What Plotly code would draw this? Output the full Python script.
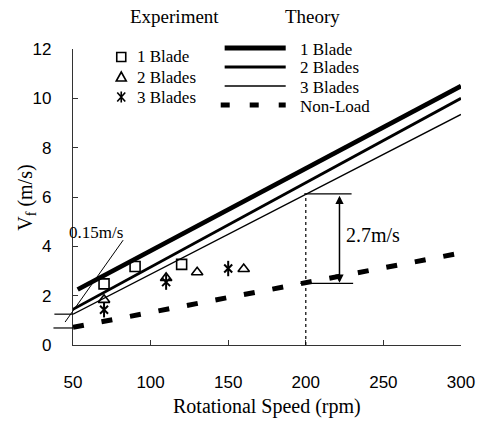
import plotly.graph_objects as go

# ---------------- data ----------------
rpm_exp_1blade = [70, 90, 120]
vf_exp_1blade = [2.48, 3.18, 3.27]
rpm_exp_2blade = [70, 110, 130, 160]
vf_exp_2blade = [1.83, 2.72, 2.95, 3.08]
rpm_exp_3blade = [70, 110, 150]
vf_exp_3blade = [1.43, 2.55, 3.10]

rpm_theory_1blade = [53, 300]
vf_theory_1blade = [2.25, 10.5]
rpm_theory = [50, 300]
vf_theory_2blade = [1.45, 10.0]
vf_theory_3blade = [1.25, 9.35]
vf_nonload = [0.72, 3.73]

x_ticks = [50, 100, 150, 200, 250, 300]
y_ticks = [0, 2, 4, 6, 8, 10, 12]
X_RANGE = [50, 300]
Y_RANGE = [0, 12]

SERIF = "Liberation Serif"
SANS = "Liberation Sans"

# plot-area geometry (pixels) used only for placing decorations
W, H = 487, 421
L, R, T, B = 73, 20, 49, 76
PW, PH = W - L - R, H - T - B


def px(p):
    return (p - L) / PW


def py(p):
    return (H - B - p) / PH


def dx(v):  # data x -> paper
    return (v - X_RANGE[0]) / (X_RANGE[1] - X_RANGE[0])


def dy(v):  # data y -> paper
    return (v - Y_RANGE[0]) / (Y_RANGE[1] - Y_RANGE[0])


fig = go.Figure()

# theory lines
fig.add_trace(go.Scatter(x=rpm_theory_1blade, y=vf_theory_1blade, mode="lines",
                         line=dict(color="black", width=4.8), name="Theory 1 Blade"))
fig.add_trace(go.Scatter(x=rpm_theory, y=vf_theory_2blade, mode="lines",
                         line=dict(color="black", width=2.8), name="Theory 2 Blades"))
fig.add_trace(go.Scatter(x=rpm_theory, y=vf_theory_3blade, mode="lines",
                         line=dict(color="black", width=1.4), name="Theory 3 Blades"))
fig.add_trace(go.Scatter(x=rpm_theory, y=vf_nonload, mode="lines",
                         line=dict(color="black", width=5, dash="11px,18px"), name="Non-Load"))

# experiment markers
fig.add_trace(go.Scatter(x=rpm_exp_1blade, y=vf_exp_1blade, mode="markers",
                         marker=dict(symbol="square-open", size=10, color="black",
                                     line=dict(width=1.6, color="black")), name="1 Blade"))
fig.add_trace(go.Scatter(x=rpm_exp_2blade, y=vf_exp_2blade, mode="markers",
                         marker=dict(symbol="triangle-up-open", size=10, color="black",
                                     line=dict(width=1.6, color="black")), name="2 Blades"))
fig.add_trace(go.Scatter(x=rpm_exp_3blade, y=vf_exp_3blade, mode="markers",
                         marker=dict(symbol="x-thin-open", size=8, color="black",
                                     line=dict(width=2, color="black")), name="3 Blades"))
fig.add_trace(go.Scatter(x=rpm_exp_3blade, y=vf_exp_3blade, mode="markers",
                         marker=dict(symbol="line-ns-open", size=11, color="black",
                                     line=dict(width=2, color="black")), showlegend=False))

shapes = []
annotations = []

# ---- right-hand dimension (2.7 m/s) ----
shapes.append(dict(type="line", xref="x", yref="y", x0=200, x1=200, y0=0, y1=6.13,
                   line=dict(color="black", width=1.2, dash="dot")))
shapes.append(dict(type="line", xref="x", yref="y", x0=199, x1=229.5, y0=6.13, y1=6.13,
                   line=dict(color="black", width=1.2)))
shapes.append(dict(type="line", xref="x", yref="y", x0=196.5, x1=230.5, y0=2.50, y1=2.50,
                   line=dict(color="black", width=1.2)))
annotations.append(dict(x=221.7, y=2.52, ax=221.7, ay=6.11, xref="x", yref="y",
                        axref="x", ayref="y", text="", showarrow=True, arrowhead=2,
                        arrowside="end+start", arrowsize=1.1, arrowwidth=1.5, arrowcolor="black"))
annotations.append(dict(x=224.5, y=4.45, xref="x", yref="y", text="2.7m/s", showarrow=False,
                        xanchor="left", yanchor="middle", font=dict(family=SERIF, size=20, color="black")))

# ---- left-hand dimension (0.15 m/s) ----
shapes.append(dict(type="line", xref="paper", yref="paper", x0=dx(38.0), x1=dx(50), y0=dy(1.25), y1=dy(1.25),
                   line=dict(color="black", width=1.2)))
shapes.append(dict(type="line", xref="paper", yref="paper", x0=dx(37.4), x1=dx(50), y0=dy(0.69), y1=dy(0.69),
                   line=dict(color="black", width=1.2)))
shapes.append(dict(type="line", xref="paper", yref="paper", x0=dx(44.9), x1=dx(82.3), y0=dy(0.93), y1=dy(4.25),
                   line=dict(color="black", width=1)))
annotations.append(dict(x=44.0, y=1.27, xref="x", yref="y", ax=0, ay=-13, text="",
                        showarrow=True, arrowhead=2, arrowsize=1.1, arrowwidth=1.5, arrowcolor="black"))
annotations.append(dict(x=44.0, y=0.67, xref="x", yref="y", ax=0, ay=13, text="",
                        showarrow=True, arrowhead=2, arrowsize=1.1, arrowwidth=1.5, arrowcolor="black"))
annotations.append(dict(x=px(126), y=py(232), xref="paper", yref="paper", text="0.15m/s",
                        showarrow=False, xanchor="right", yanchor="middle",
                        font=dict(family=SERIF, size=17, color="black")))

# ---- axis titles ----
annotations.append(dict(x=px(270), y=py(406), xref="paper", yref="paper",
                        text="Rotational Speed (rpm)", showarrow=False,
                        xanchor="center", yanchor="middle",
                        font=dict(family=SERIF, size=20, color="black")))
annotations.append(dict(x=px(25), y=py(198), xref="paper", yref="paper",
                        text="V<sub>f</sub> (m/s)", showarrow=False, textangle=-90,
                        xanchor="center", yanchor="middle",
                        font=dict(family=SERIF, size=20, color="black")))

# ---- manual legend ----
annotations.append(dict(x=px(176), y=py(16), xref="paper", yref="paper", text="Experiment",
                        showarrow=False, xanchor="center", yanchor="middle",
                        font=dict(family=SERIF, size=19, color="black")))
annotations.append(dict(x=px(316), y=py(16), xref="paper", yref="paper", text="Theory",
                        showarrow=False, xanchor="center", yanchor="middle",
                        font=dict(family=SERIF, size=19, color="black")))

exp_labels = ["1 Blade", "2 Blades", "3 Blades"]
exp_rows = [57, 77, 97]
marker_paths = [
    "M-4.5,-4.5 L4.5,-4.5 L4.5,4.5 L-4.5,4.5 Z",
    "M-5,-4 L5,-4 L0,5 Z",
    "M-4,-4.5 L4,4.5 M-4,4.5 L4,-4.5 M0,-5.5 L0,5.5",
]
for lab, row, path in zip(exp_labels, exp_rows, marker_paths):
    shapes.append(dict(type="path", xref="paper", yref="paper", xsizemode="pixel",
                       ysizemode="pixel", xanchor=px(122), yanchor=py(row), path=path,
                       line=dict(color="black", width=1.6)))
    annotations.append(dict(x=px(136), y=py(row), xref="paper", yref="paper", text=lab,
                            showarrow=False, xanchor="left", yanchor="middle",
                            font=dict(family=SERIF, size=17, color="black")))

th_labels = ["1 Blade", "2 Blades", "3 Blades", "Non-Load"]
th_rows = [48, 67, 86, 105]
th_styles = [dict(width=4.8), dict(width=2.8), dict(width=1.4), dict(width=5, dash="9px,20px")]
for lab, row, st in zip(th_labels, th_rows, th_styles):
    shapes.append(dict(type="line", xref="paper", yref="paper", x0=px(227 if "dash" not in st else 223),
                       x1=px(289), y0=py(row), y1=py(row), line=dict(color="black", **st)))
    annotations.append(dict(x=px(301), y=py(row + 1), xref="paper", yref="paper", text=lab,
                            showarrow=False, xanchor="left", yanchor="middle",
                            font=dict(family=SERIF, size=17, color="black")))

fig.update_layout(
    width=W, height=H,
    margin=dict(l=L, r=R, t=T, b=B),
    plot_bgcolor="white", paper_bgcolor="white",
    showlegend=False,
    shapes=shapes, annotations=annotations,
)
axis_common = dict(ticks="inside", ticklen=5, tickwidth=1, tickcolor="#333",
                   showline=True, linecolor="#333", linewidth=1.2,
                   showgrid=False, zeroline=False,
                   tickfont=dict(family=SANS, size=17, color="black"))
fig.update_xaxes(range=X_RANGE, tickvals=x_ticks, ticklabelstandoff=21, **axis_common)
fig.update_yaxes(range=Y_RANGE, tickvals=y_ticks, ticklabelstandoff=17, **axis_common)

fig.write_html("out.html", config={"displayModeBar": False},
               post_script="document.body.style.margin='0px';document.body.style.overflow='hidden';")
